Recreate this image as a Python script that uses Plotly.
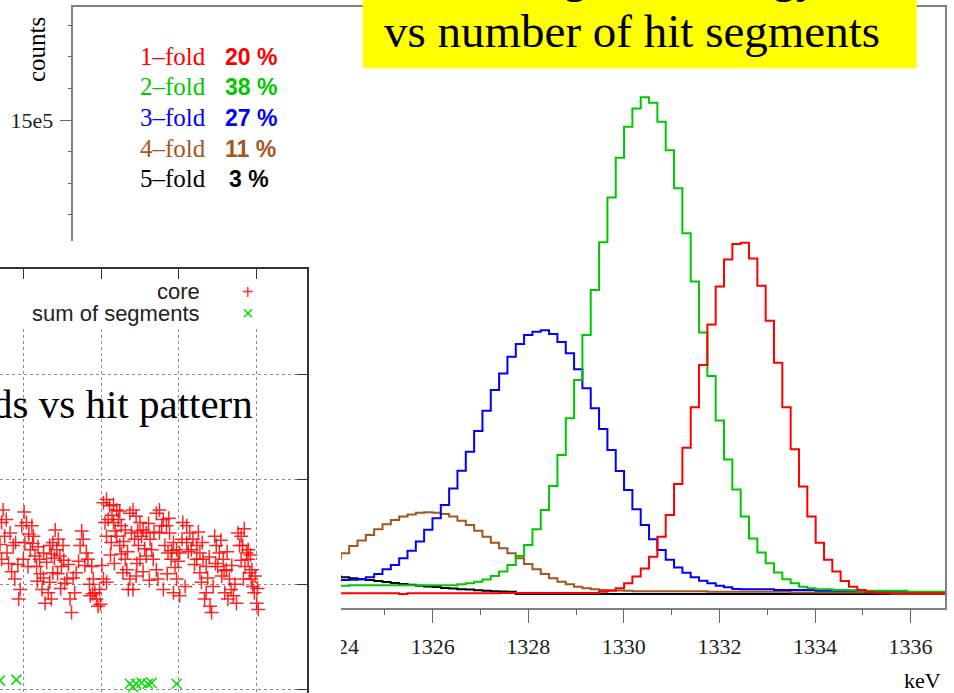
import numpy as np
import plotly.graph_objects as go

W, H = 954, 693

# ---- main spectrum: segment-sum energy per fold (bin counts in units of 1e5) ----
BIN_START = 1323.904   # keV, left edge of the first bin
BIN_WIDTH = 0.1743     # keV
COUNT_UNIT = 1e5

fold1 = [0.02, 0.02, 0.02, 0.02, 0.02, 0.02, 0.02, 0.02, 0.00, 0.02,
         0.02, 0.02, 0.02, 0.02, 0.02, 0.02, 0.02, 0.02, 0.02, 0.02,
         0.03, 0.03, 0.03, 0.03, 0.03, 0.03, 0.03, 0.03, 0.03, 0.03,
         0.03, 0.03, 0.07, 0.10, 0.18, 0.34, 0.55, 0.81, 1.18, 1.81,
         2.50, 3.48, 4.63, 5.91, 7.25, 8.53, 9.73, 10.59, 11.08, 11.12,
         10.62, 9.76, 8.65, 7.32, 5.91, 4.58, 3.40, 2.45, 1.62, 1.08,
         0.71, 0.41, 0.23, 0.13, 0.07, 0.04, 0.02, 0.02, 0.02, 0.02,
         0.02, 0.02, 0.02, 0.02]

fold2 = [0.25, 0.26, 0.28, 0.28, 0.28, 0.28, 0.28, 0.28, 0.28, 0.28,
         0.28, 0.28, 0.28, 0.28, 0.28, 0.31, 0.34, 0.39, 0.46, 0.57,
         0.71, 0.92, 1.20, 1.55, 2.05, 2.66, 3.42, 4.40, 5.56, 6.77,
         8.20, 9.62, 11.13, 12.55, 13.81, 14.79, 15.37, 15.72, 15.55, 14.95,
         14.05, 12.84, 11.42, 9.89, 8.28, 6.90, 5.49, 4.26, 3.31, 2.45,
         1.76, 1.31, 0.97, 0.68, 0.47, 0.34, 0.23, 0.18, 0.15, 0.15,
         0.13, 0.13, 0.12, 0.10, 0.10, 0.10, 0.10, 0.10, 0.10, 0.07,
         0.07, 0.07, 0.07, 0.07]

fold3 = [0.43, 0.44, 0.45, 0.47, 0.53, 0.63, 0.78, 0.92, 1.13, 1.37,
         1.66, 2.03, 2.40, 2.82, 3.34, 3.90, 4.50, 5.16, 5.80, 6.46,
         6.98, 7.51, 7.91, 8.20, 8.30, 8.35, 8.23, 7.98, 7.62, 7.11,
         6.51, 5.88, 5.22, 4.56, 3.89, 3.29, 2.68, 2.18, 1.73, 1.39,
         1.08, 0.84, 0.67, 0.53, 0.42, 0.34, 0.26, 0.21, 0.16, 0.15,
         0.15, 0.15, 0.15, 0.13, 0.13, 0.13, 0.13, 0.13, 0.10, 0.10,
         0.10, 0.10, 0.10, 0.10, 0.08, 0.08, 0.08, 0.08, 0.08, 0.06,
         0.06, 0.06, 0.06, 0.06]

fold4 = [1.12, 1.29, 1.52, 1.69, 1.87, 2.05, 2.21, 2.34, 2.45, 2.52,
         2.57, 2.59, 2.57, 2.53, 2.45, 2.32, 2.18, 2.00, 1.81, 1.62,
         1.45, 1.29, 1.13, 0.95, 0.78, 0.63, 0.50, 0.39, 0.31, 0.23,
         0.18, 0.15, 0.13, 0.12, 0.11, 0.10, 0.09, 0.09, 0.09, 0.09,
         0.09, 0.09, 0.09, 0.09, 0.09, 0.07, 0.07, 0.07, 0.07, 0.07,
         0.07, 0.07, 0.07, 0.07, 0.07, 0.05, 0.05, 0.05, 0.05, 0.05,
         0.05, 0.05, 0.05, 0.05, 0.05, 0.05, 0.05, 0.01, 0.01, 0.01,
         0.01, 0.01, 0.01, 0.01]

fold5 = [0.55, 0.53, 0.50, 0.47, 0.44, 0.41, 0.38, 0.35, 0.32, 0.29,
         0.26, 0.24, 0.22, 0.19, 0.17, 0.15, 0.14, 0.12, 0.10, 0.09,
         0.08, 0.07, 0.00, 0.00, 0.00, 0.00, 0.00, 0.00, 0.00, 0.00,
         0.00, 0.00, 0.00, 0.00, 0.00, 0.00, 0.00, 0.00, 0.00, 0.00,
         0.00, 0.00, 0.00, 0.00, 0.00, 0.00, 0.00, 0.00, 0.00, 0.00,
         0.00, 0.00, 0.00, 0.00, 0.00, 0.00, 0.00, 0.00, 0.00, 0.00,
         0.00, 0.00, 0.00, 0.00, 0.00, 0.00, 0.00, 0.00, 0.00, 0.00,
         0.00, 0.00, 0.00, 0.00]

fold_labels = ["1\u2013fold", "2\u2013fold", "3\u2013fold", "4\u2013fold", "5\u2013fold"]
fold_shares = ["20 %", "38 %", "27 %", "11 %", "3 %"]
fold_colors = ["#ff0000", "#00c800", "#0000ff", "#a5561e", "#000000"]

# ---- inset: thresholds vs hit pattern ----
core_x = [74, 72, 76, 83, 87, 72, 79, 89, 96, 94,
          78, 81, 85, 90, 93, 70,
          98, 104, 111, 113, 102, 109, 115, 100, 106, 117, 121, 124, 128, 134,
          101, 107, 112, 119, 122, 118, 126,
          126, 130, 134, 138, 141, 143, 147, 149, 145, 151, 138, 132, 136,
          136, 140, 144, 152, 153, 148,
          156, 160, 162, 166, 168, 173, 175, 177, 181, 183, 188, 190, 192, 194, 196, 198, 186, 203, 207,
          158, 164, 171, 179, 185, 189, 199, 201,
          203, 207, 211, 216, 220, 205, 209, 216, 222, 226, 231, 207, 213, 220, 224, 231, 233, 237, 235, 228,
          214, 218, 224, 229, 212, 217, 226, 234,
          237, 241, 245, 250, 254, 239, 243, 248, 252, 258, 263, 265, 267, 271, 258, 250, 245, 241,
          247, 256, 261, 246, 254, 262, 268,
          271, 275, 280, 284, 288, 293, 297, 301, 275, 282, 286, 290, 273, 280, 297, 301, 308, 293,
          278, 287, 291, 295, 299, 285, 304,
          305, 310, 314, 318, 323, 327, 331, 335, 316, 327, 329, 335, 340, 342, 333, 310, 323,
          312, 320, 325, 330, 337, 339,
          346, 348, 352, 357, 361, 365, 367, 370, 374, 350, 355, 344, 359, 363,
          347, 354, 358, 362, 368, 372,
          376, 380, 382, 387, 389, 385, 391, 393, 395, 397, 400, 402, 378, 389,
          380, 384, 392, 394, 398, 401, 383]
core_y = [17.1, 15.9, 14.6, 14.9, 13.7, 12.4, 13.0, 10.5, 9.5, 8.6,
          16.2, 12.0, 11.2, 14.0, 11.9, 13.8,
          15.6, 15.9, 15.6, 14.6, 14.0, 13.3, 12.7, 12.4, 11.7, 11.7, 12.4, 9.5, 8.2, 10.2,
          16.9, 14.8, 13.9, 13.6, 11.0, 10.3, 10.6,
          13.0, 12.1, 13.7, 14.0, 15.2, 13.3, 12.7, 11.7, 14.3, 13.7, 11.1, 9.2, 8.6,
          12.9, 12.5, 11.0, 12.3, 10.1, 9.6,
          10.5, 8.6, 7.3, 9.2, 11.1, 13.7, 15.1, 14.3, 13.0, 12.4, 11.7, 10.5, 9.2, 8.6, 7.9, 9.5, 8.9, 10.5, 10.2,
          11.9, 10.6, 12.2, 11.8, 10.0, 9.1, 8.1, 11.8,
          17.8, 18.1, 17.5, 17.6, 17.1, 15.9, 16.2, 15.9, 16.2, 15.6, 15.2, 14.6, 14.0, 14.6, 13.7, 12.4, 11.4, 10.5, 9.5, 11.1,
          16.6, 15.1, 17.0, 14.1, 12.8, 12.0, 12.9, 13.1,
          16.8, 17.1, 16.5, 15.9, 15.2, 14.9, 14.3, 13.7, 14.6, 14.9, 14.3, 13.3, 12.4, 11.4, 12.7, 12.4, 10.8, 9.5,
          15.1, 13.4, 15.8, 12.0, 11.2, 10.4, 15.0,
          16.8, 17.1, 16.2, 15.6, 14.9, 14.0, 13.3, 13.0, 14.9, 13.7, 13.0, 12.4, 10.5, 9.5, 10.5, 8.9, 9.8, 9.2,
          15.6, 16.3, 13.2, 11.6, 12.2, 11.0, 14.3,
          15.9, 15.6, 14.9, 14.3, 13.7, 13.0, 12.4, 11.7, 13.3, 11.1, 10.2, 9.2, 7.9, 7.3, 8.6, 14.0, 12.4,
          13.1, 11.9, 15.0, 14.0, 10.6, 12.6,
          14.6, 13.7, 13.0, 12.4, 11.4, 10.5, 9.5, 8.9, 8.2, 11.7, 10.8, 9.8, 9.2, 8.6,
          12.0, 14.2, 11.3, 13.1, 11.8, 10.0,
          14.9, 14.6, 13.7, 13.0, 12.4, 11.7, 11.1, 10.5, 9.8, 9.2, 8.2, 7.6, 13.7, 13.3,
          12.3, 15.3, 12.8, 11.4, 10.8, 9.6, 10.5]
seg_x = [70, 91, 237, 241, 245, 252, 260, 265, 297]
seg_y = [0.8, 0.9, 0.5, 0.2, 0.5, 0.6, 0.5, 0.6, 0.5]


def px(x):
    return x / W


def py(y):
    return 1 - y / H


def ann(text, x, y, size, color="#000000", family="Liberation Serif", xanchor="left", **kw):
    return dict(text=text, x=px(x), y=py(y), xref="paper", yref="paper", xanchor=xanchor,
                yanchor="middle", showarrow=False,
                font=dict(family=family, size=size, color=color), **kw)


fig = go.Figure()

edges = BIN_START + BIN_WIDTH * np.arange(len(fold1) + 1)
draw_order = [4, 3, 2, 1, 0]
all_folds = [fold1, fold2, fold3, fold4, fold5]
for i in draw_order:
    vals = np.array(all_folds[i] + [all_folds[i][-1]]) * COUNT_UNIT
    fig.add_trace(go.Scatter(x=edges, y=vals, mode="lines", name=fold_labels[i],
                             line=dict(color=fold_colors[i], width=2, shape="hv"),
                             showlegend=False, hoverinfo="skip"))

# blank subplot that masks the lower-left corner of the spectrum
fig.add_trace(go.Scatter(x=[], y=[], xaxis="x2", yaxis="y2", showlegend=False))

fig.add_trace(go.Scatter(x=core_x, y=core_y, mode="markers", name="core",
                         xaxis="x3", yaxis="y3", showlegend=False,
                         marker=dict(symbol="cross-thin", size=10,
                                     line=dict(color="rgba(255,0,0,0.85)", width=1.5))))
fig.add_trace(go.Scatter(x=seg_x, y=seg_y, mode="markers", name="sum of segments",
                         xaxis="x3", yaxis="y3", showlegend=False,
                         marker=dict(symbol="x-thin", size=10,
                                     line=dict(color="#00e000", width=1.5))))

tick_font = dict(family="Liberation Serif", size=22, color="#222222")

fig.update_layout(
    width=W, height=H, margin=dict(l=0, r=0, t=0, b=0),
    paper_bgcolor="white", plot_bgcolor="white", showlegend=False,
    xaxis=dict(domain=[px(73.3), px(945)], range=[1318.48, 1336.72], anchor="y",
               showline=True, linecolor="#808080", linewidth=1.5, mirror=True,
               showgrid=False, zeroline=False,
               ticks="outside", ticklen=14, tickwidth=1.2, tickcolor="#666666",
               tick0=1324, dtick=2, tickfont=tick_font, ticklabelstandoff=4,
               minor=dict(ticks="outside", ticklen=6, tickwidth=1.2, tickcolor="#666666",
                          tick0=1324, dtick=1, showgrid=False)),
    yaxis=dict(domain=[py(607.7), py(6.7)], range=[-0.434e5, 18.59e5], anchor="x",
               showline=True, linecolor="#808080", linewidth=1.5, mirror=True,
               showgrid=False, zeroline=False,
               ticks="outside", ticklen=12, tickwidth=1.2, tickcolor="#666666",
               tickmode="array", tickvals=[5e5, 10e5, 15e5], ticktext=["5e5", "10e5", "15e5"],
               tickfont=tick_font, ticklabelstandoff=2,
               minor=dict(ticks="outside", ticklen=4, tickwidth=1.2, tickcolor="#666666",
                          tick0=0, dtick=1e5, showgrid=False)),
    xaxis2=dict(domain=[0, px(341)], anchor="y2", range=[0, 1], visible=False),
    yaxis2=dict(domain=[0, py(241)], anchor="x2", range=[0, 1], visible=False),
    xaxis3=dict(domain=[0, px(306.7)], anchor="y3", range=[70, 464.3], side="top",
                showline=True, linecolor="#333333", linewidth=1.5,
                ticks="inside", ticklen=10, tickwidth=1.2, tickcolor="#333333",
                tickmode="array", tickvals=[100, 200, 300, 400], showticklabels=False,
                showgrid=True, gridcolor="#8c8c8c", griddash="dot", gridwidth=1, zeroline=False),
    yaxis3=dict(domain=[0, py(269.3)], anchor="x3", range=[-0.38, 40.09], side="right",
                showline=True, linecolor="#333333", linewidth=1.5,
                ticks="inside", ticklen=10, tickwidth=1.2, tickcolor="#333333",
                tickmode="array", tickvals=[0, 10, 20, 30], showticklabels=False,
                showgrid=True, gridcolor="#8c8c8c", griddash="dot", gridwidth=1, zeroline=False),
)

shapes = [
    # yellow title box
    dict(type="rect", xref="paper", yref="paper", x0=px(362.7), x1=px(916.7), y0=py(68.3), y1=1,
         fillcolor="#ffff00", line=dict(width=0), layer="above"),
    # inset key background
    dict(type="rect", xref="paper", yref="paper", x0=px(12), x1=px(280), y0=py(326), y1=py(280),
         fillcolor="white", line=dict(width=0), layer="above"),
]

annotations = [
    ann("Sum of segment energy", 373, -24, 47),
    ann("vs number of hit segments", 381.7, 31, 47),
    ann("counts", 36, 50, 25, textangle=-90, xanchor="center"),
    ann("keV", 943, 680, 22, xanchor="right"),
    ann("ds vs hit pattern", 255, 404.4, 41, xanchor="right"),
    ann("core", 202, 291.7, 22, color="#222222", family="Liberation Sans", xanchor="right"),
    ann("sum of segments", 202, 313.4, 22, color="#222222", family="Liberation Sans", xanchor="right"),
    ann("+", 248, 291.7, 20, color="#ff3030", family="Liberation Sans", xanchor="center"),
    ann("\u00d7", 248, 313.4, 20, color="#00e000", family="Liberation Sans", xanchor="center"),
]
row_y = [56.8, 86.8, 117.5, 148.5, 179]
share_x = [223, 223, 223, 223, 227]
for lab, share, col, yy, sx in zip(fold_labels, fold_shares, fold_colors, row_y, share_x):
    annotations.append(ann(lab, 138, yy, 25, color=col))
    annotations.append(ann("<b>" + share + "</b>", sx, yy, 23, color=col, family="Liberation Sans"))

fig.update_layout(shapes=shapes, annotations=annotations)

# the page's default 8px body margin would shift the whole figure
fig.write_html("out.html", config={"displayModeBar": False},
               post_script="document.body.style.margin='0px';")
